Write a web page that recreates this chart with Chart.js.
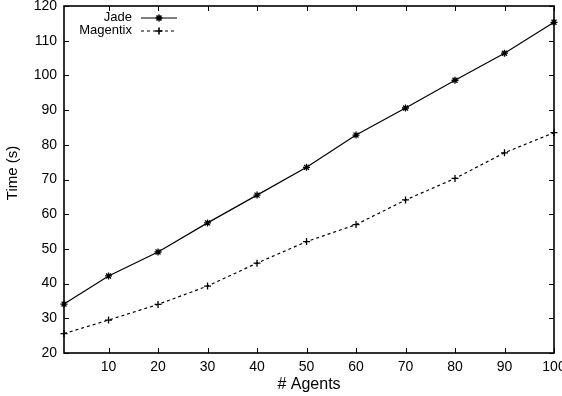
<!DOCTYPE html>
<html>
<head>
<meta charset="utf-8">
<script src="https://cdn.jsdelivr.net/npm/chart.js@4"></script>
<style>
html,body{margin:0;padding:0;background:#fff;}
#wrap{width:562px;height:396px;position:relative;}
</style>
</head>
<body>
<div id="wrap"><canvas id="c" width="562" height="396"></canvas></div>
<script>
const agents = [1, 10, 20, 30, 40, 50, 60, 70, 80, 90, 100];
const jade = [34.1, 42.2, 49.1, 57.5, 65.5, 73.5, 82.8, 90.6, 98.6, 106.4, 115.3];
const magentix = [25.6, 29.5, 34.0, 39.3, 45.9, 52.1, 57.0, 64.1, 70.3, 77.7, 83.5];
const xTicks = [10, 20, 30, 40, 50, 60, 70, 80, 90, 100];
const yTicks = [20, 30, 40, 50, 60, 70, 80, 90, 100, 110, 120];
const seriesNames = ['Jade', 'Magentix'];
const xTitle = '# Agents';
const yTitle = 'Time (s)';

const FONT = 'Liberation Sans, Arial, sans-serif';

const frame = {
  id: 'frame',
  afterDatasetsDraw(chart) {
    const {ctx, chartArea: a, scales: {x, y}} = chart;
    ctx.save();
    ctx.strokeStyle = '#000';
    ctx.lineWidth = 1;
    const tl = 5;
    ctx.beginPath();
    xTicks.forEach(v => {
      const px = Math.round(x.getPixelForValue(v)) + 0.5;
      ctx.moveTo(px, a.bottom); ctx.lineTo(px, a.bottom - tl);
      ctx.moveTo(px, a.top); ctx.lineTo(px, a.top + tl);
    });
    yTicks.forEach(v => {
      const py = Math.round(y.getPixelForValue(v)) + 0.5;
      ctx.moveTo(a.left, py); ctx.lineTo(a.left + tl, py);
      ctx.moveTo(a.right, py); ctx.lineTo(a.right - tl, py);
    });
    ctx.stroke();
    ctx.lineWidth = 1.6;
    ctx.strokeRect(a.left, a.top, a.right - a.left, a.bottom - a.top);

    // axis titles
    ctx.fillStyle = '#000';
    ctx.font = '16px ' + FONT;
    ctx.textAlign = 'center';
    ctx.textBaseline = 'alphabetic';
    ctx.fillText(xTitle, 309, 389);
    ctx.font = '15px ' + FONT;
    ctx.save();
    ctx.translate(16.5, 173);
    ctx.rotate(-Math.PI / 2);
    ctx.fillText(yTitle, 0, 0);
    ctx.restore();

    // legend
    ctx.font = '13px ' + FONT;
    ctx.textAlign = 'right';
    ctx.textBaseline = 'middle';
    const rows = [17.5, 30.5];
    chart.data.datasets.forEach((ds, i) => {
      const yy = rows[i];
      ctx.fillText(ds.label, 132, yy);
      ctx.save();
      ctx.strokeStyle = '#000';
      ctx.lineWidth = ds.borderWidth;
      ctx.setLineDash(ds.borderDash || []);
      ctx.beginPath();
      ctx.moveTo(141, yy + 0.5); ctx.lineTo(177, yy + 0.5);
      ctx.stroke();
      ctx.restore();
      Chart.helpers.drawPoint(ctx, {pointStyle: ds.pointStyle, radius: ds.pointRadius, borderWidth: ds.pointBorderWidth, rotation: 0}, 159, yy + 0.5);
    });
    ctx.restore();
  }
};

new Chart(document.getElementById('c'), {
  type: 'line',
  data: {
    labels: agents,
    datasets: [
      {
        label: seriesNames[0],
        data: agents.map((a, i) => ({x: a, y: jade[i]})),
        borderColor: '#000', backgroundColor: '#000',
        borderWidth: 1.2, pointStyle: 'star', pointRadius: 3.5,
        pointBorderWidth: 1.3, pointBorderColor: '#000', fill: false, tension: 0, clip: false
      },
      {
        label: seriesNames[1],
        data: agents.map((a, i) => ({x: a, y: magentix[i]})),
        borderColor: '#000', backgroundColor: '#000',
        borderWidth: 1.2, borderDash: [3, 3], pointStyle: 'cross', pointRadius: 3.5,
        pointBorderWidth: 1.3, pointBorderColor: '#000', fill: false, tension: 0, clip: false
      }
    ]
  },
  options: {
    responsive: false,
    animation: false,
    events: [],
    layout: {padding: {top: 6, right: 8, left: 0, bottom: 0}},
    plugins: {legend: {display: false}, tooltip: {enabled: false}},
    scales: {
      x: {
        type: 'linear', min: 1, max: 100,
        grid: {display: false, drawTicks: false},
        border: {display: false},
        afterBuildTicks: s => { s.ticks = xTicks.map(v => ({value: v})); },
        afterFit: s => { s.height = 43; s.paddingLeft = 0; s.paddingRight = 0; },
        ticks: {autoSkip: false, maxRotation: 0, minRotation: 0, padding: 6, color: '#000', font: {family: FONT, size: 14}}
      },
      y: {
        type: 'linear', min: 20, max: 120,
        grid: {display: false, drawTicks: false},
        border: {display: false},
        afterBuildTicks: s => { s.ticks = yTicks.map(v => ({value: v})); },
        afterFit: s => { s.width = 64; s.paddingTop = 0; s.paddingBottom = 0; },
        ticks: {autoSkip: false, padding: 7, color: '#000', font: {family: FONT, size: 14}}
      }
    }
  },
  plugins: [frame]
});
</script>
</body>
</html>
